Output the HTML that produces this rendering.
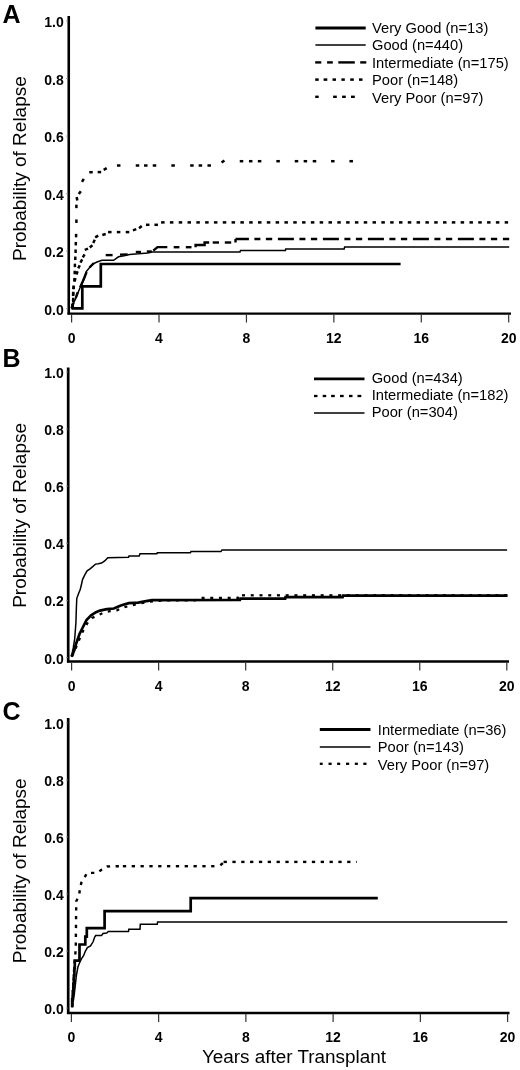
<!DOCTYPE html><html><head><meta charset="utf-8"><style>html,body{margin:0;padding:0;background:#fff;}svg{display:block;will-change:transform}</style></head><body>
<svg width="520" height="1070" viewBox="0 0 520 1070">
<rect width="520" height="1070" fill="#fff"/>
<g font-family='"Liberation Sans", sans-serif' fill="#000">
<text x="2.6" y="23.4" font-size="25" font-weight="bold">A</text>
<line x1="68.75" y1="16" x2="68.75" y2="314.5" stroke="#000" stroke-width="2.6"/>
<line x1="67.5" y1="313.6" x2="511" y2="313.6" stroke="#000" stroke-width="2.3"/>
<line x1="71.60" y1="314.5" x2="71.60" y2="322.5" stroke="#333" stroke-width="1.2"/>
<text x="71.60" y="343.2" font-size="14" font-weight="bold" text-anchor="middle">0</text>
<line x1="159.02" y1="314.5" x2="159.02" y2="322.5" stroke="#333" stroke-width="1.2"/>
<text x="159.02" y="343.2" font-size="14" font-weight="bold" text-anchor="middle">4</text>
<line x1="246.44" y1="314.5" x2="246.44" y2="322.5" stroke="#333" stroke-width="1.2"/>
<text x="246.44" y="343.2" font-size="14" font-weight="bold" text-anchor="middle">8</text>
<line x1="333.86" y1="314.5" x2="333.86" y2="322.5" stroke="#333" stroke-width="1.2"/>
<text x="333.86" y="343.2" font-size="14" font-weight="bold" text-anchor="middle">12</text>
<line x1="421.28" y1="314.5" x2="421.28" y2="322.5" stroke="#333" stroke-width="1.2"/>
<text x="421.28" y="343.2" font-size="14" font-weight="bold" text-anchor="middle">16</text>
<line x1="508.70" y1="314.5" x2="508.70" y2="322.5" stroke="#333" stroke-width="1.2"/>
<text x="508.70" y="343.2" font-size="14" font-weight="bold" text-anchor="middle">20</text>
<line x1="66" y1="308.70" x2="68" y2="308.70" stroke="#888" stroke-width="0.8"/>
<text x="63.8" y="314.70" font-size="14" font-weight="bold" text-anchor="end">0.0</text>
<line x1="66" y1="251.16" x2="68" y2="251.16" stroke="#888" stroke-width="0.8"/>
<text x="63.8" y="257.16" font-size="14" font-weight="bold" text-anchor="end">0.2</text>
<line x1="66" y1="193.62" x2="68" y2="193.62" stroke="#888" stroke-width="0.8"/>
<text x="63.8" y="199.62" font-size="14" font-weight="bold" text-anchor="end">0.4</text>
<line x1="66" y1="136.08" x2="68" y2="136.08" stroke="#888" stroke-width="0.8"/>
<text x="63.8" y="142.08" font-size="14" font-weight="bold" text-anchor="end">0.6</text>
<line x1="66" y1="78.54" x2="68" y2="78.54" stroke="#888" stroke-width="0.8"/>
<text x="63.8" y="84.54" font-size="14" font-weight="bold" text-anchor="end">0.8</text>
<line x1="66" y1="21.00" x2="68" y2="21.00" stroke="#888" stroke-width="0.8"/>
<text x="63.8" y="27.00" font-size="14" font-weight="bold" text-anchor="end">1.0</text>
<text transform="translate(25.7 168.6) rotate(-90)" font-size="19" text-anchor="middle">Probability of Relapse</text>
<text x="2.6" y="366.8" font-size="25" font-weight="bold">B</text>
<line x1="68.2" y1="367.5" x2="68.2" y2="662.5" stroke="#000" stroke-width="2.7"/>
<line x1="67" y1="661.5" x2="509" y2="661.5" stroke="#000" stroke-width="2.3"/>
<line x1="71.60" y1="662.5" x2="71.60" y2="670.5" stroke="#333" stroke-width="1.2"/>
<text x="71.60" y="690.5" font-size="14" font-weight="bold" text-anchor="middle">0</text>
<line x1="158.64" y1="662.5" x2="158.64" y2="670.5" stroke="#333" stroke-width="1.2"/>
<text x="158.64" y="690.5" font-size="14" font-weight="bold" text-anchor="middle">4</text>
<line x1="245.68" y1="662.5" x2="245.68" y2="670.5" stroke="#333" stroke-width="1.2"/>
<text x="245.68" y="690.5" font-size="14" font-weight="bold" text-anchor="middle">8</text>
<line x1="332.72" y1="662.5" x2="332.72" y2="670.5" stroke="#333" stroke-width="1.2"/>
<text x="332.72" y="690.5" font-size="14" font-weight="bold" text-anchor="middle">12</text>
<line x1="419.76" y1="662.5" x2="419.76" y2="670.5" stroke="#333" stroke-width="1.2"/>
<text x="419.76" y="690.5" font-size="14" font-weight="bold" text-anchor="middle">16</text>
<line x1="506.80" y1="662.5" x2="506.80" y2="670.5" stroke="#333" stroke-width="1.2"/>
<text x="506.80" y="690.5" font-size="14" font-weight="bold" text-anchor="middle">20</text>
<line x1="66" y1="657.50" x2="68" y2="657.50" stroke="#888" stroke-width="0.8"/>
<text x="63.8" y="663.50" font-size="14" font-weight="bold" text-anchor="end">0.0</text>
<line x1="66" y1="600.40" x2="68" y2="600.40" stroke="#888" stroke-width="0.8"/>
<text x="63.8" y="606.40" font-size="14" font-weight="bold" text-anchor="end">0.2</text>
<line x1="66" y1="543.30" x2="68" y2="543.30" stroke="#888" stroke-width="0.8"/>
<text x="63.8" y="549.30" font-size="14" font-weight="bold" text-anchor="end">0.4</text>
<line x1="66" y1="486.20" x2="68" y2="486.20" stroke="#888" stroke-width="0.8"/>
<text x="63.8" y="492.20" font-size="14" font-weight="bold" text-anchor="end">0.6</text>
<line x1="66" y1="429.10" x2="68" y2="429.10" stroke="#888" stroke-width="0.8"/>
<text x="63.8" y="435.10" font-size="14" font-weight="bold" text-anchor="end">0.8</text>
<line x1="66" y1="372.00" x2="68" y2="372.00" stroke="#888" stroke-width="0.8"/>
<text x="63.8" y="378.00" font-size="14" font-weight="bold" text-anchor="end">1.0</text>
<text transform="translate(25.7 515.4) rotate(-90)" font-size="19" text-anchor="middle">Probability of Relapse</text>
<text x="2.6" y="720.3" font-size="25" font-weight="bold">C</text>
<line x1="68.2" y1="718" x2="68.2" y2="1014" stroke="#000" stroke-width="2.7"/>
<line x1="67" y1="1013.0" x2="509.5" y2="1013.0" stroke="#000" stroke-width="2.6"/>
<line x1="71.40" y1="1014" x2="71.40" y2="1022" stroke="#333" stroke-width="1.2"/>
<text x="71.40" y="1042" font-size="14" font-weight="bold" text-anchor="middle">0</text>
<line x1="158.64" y1="1014" x2="158.64" y2="1022" stroke="#333" stroke-width="1.2"/>
<text x="158.64" y="1042" font-size="14" font-weight="bold" text-anchor="middle">4</text>
<line x1="245.88" y1="1014" x2="245.88" y2="1022" stroke="#333" stroke-width="1.2"/>
<text x="245.88" y="1042" font-size="14" font-weight="bold" text-anchor="middle">8</text>
<line x1="333.12" y1="1014" x2="333.12" y2="1022" stroke="#333" stroke-width="1.2"/>
<text x="333.12" y="1042" font-size="14" font-weight="bold" text-anchor="middle">12</text>
<line x1="420.36" y1="1014" x2="420.36" y2="1022" stroke="#333" stroke-width="1.2"/>
<text x="420.36" y="1042" font-size="14" font-weight="bold" text-anchor="middle">16</text>
<line x1="507.60" y1="1014" x2="507.60" y2="1022" stroke="#333" stroke-width="1.2"/>
<text x="507.60" y="1042" font-size="14" font-weight="bold" text-anchor="middle">20</text>
<line x1="66" y1="1008.10" x2="68" y2="1008.10" stroke="#888" stroke-width="0.8"/>
<text x="63.8" y="1014.10" font-size="14" font-weight="bold" text-anchor="end">0.0</text>
<line x1="66" y1="951.04" x2="68" y2="951.04" stroke="#888" stroke-width="0.8"/>
<text x="63.8" y="957.04" font-size="14" font-weight="bold" text-anchor="end">0.2</text>
<line x1="66" y1="893.98" x2="68" y2="893.98" stroke="#888" stroke-width="0.8"/>
<text x="63.8" y="899.98" font-size="14" font-weight="bold" text-anchor="end">0.4</text>
<line x1="66" y1="836.92" x2="68" y2="836.92" stroke="#888" stroke-width="0.8"/>
<text x="63.8" y="842.92" font-size="14" font-weight="bold" text-anchor="end">0.6</text>
<line x1="66" y1="779.86" x2="68" y2="779.86" stroke="#888" stroke-width="0.8"/>
<text x="63.8" y="785.86" font-size="14" font-weight="bold" text-anchor="end">0.8</text>
<line x1="66" y1="722.80" x2="68" y2="722.80" stroke="#888" stroke-width="0.8"/>
<text x="63.8" y="728.80" font-size="14" font-weight="bold" text-anchor="end">1.0</text>
<text transform="translate(25.7 870.8) rotate(-90)" font-size="19" text-anchor="middle">Probability of Relapse</text>
<text x="201.9" y="1063.4" font-size="18.9">Years after Transplant</text>
</g>
<polyline points="71.5,308.3 82.3,308.3 82.3,286.3 100.8,286.3 100.8,264 400.6,264" fill="none" stroke="#000" stroke-width="2.7" stroke-linecap="butt" stroke-linejoin="miter"/>
<polyline points="71.5,308.5 72.4,307 74,302 75.8,298.4 77.5,294 79.9,288 82.1,283.8 84.5,278 86.3,271.5 89.4,267.7 93.2,263.8 97,262 101.9,260.3 113.6,260.3 118.5,256.8 124,255.8 129.5,254.4 138.5,253.8 147.7,252.9 150,252.4 152,252 240,252 240.5,250.6 285.4,250.6 285.8,248.9 344.2,248.9 344.6,247.1 509.2,247.1" fill="none" stroke="#000" stroke-width="1.5" stroke-linecap="butt" stroke-linejoin="miter"/>
<polyline points="71.5,308.5 73,304 75.5,298.5 77.5,293 80,287.5 82.5,282 85,276 87,271 90,267 93.5,263.5 97.5,261.2" fill="none" stroke="#000" stroke-width="2.4" stroke-linecap="butt" stroke-linejoin="miter" stroke-dasharray="6 5.5 6 5.5 16.5 5.5"/>
<polyline points="105.7,255.1 112.6,255.1" fill="none" stroke="#000" stroke-width="2.4" stroke-linecap="butt" stroke-linejoin="miter"/>
<polyline points="120,254.6 127.6,254.4" fill="none" stroke="#000" stroke-width="2.4" stroke-linecap="butt" stroke-linejoin="miter"/>
<polyline points="135.8,252 141,252" fill="none" stroke="#000" stroke-width="2.4" stroke-linecap="butt" stroke-linejoin="miter"/>
<polyline points="146.8,251.5 151.8,251.5" fill="none" stroke="#000" stroke-width="2.4" stroke-linecap="butt" stroke-linejoin="miter"/>
<polyline points="153.3,250.6 157.5,247.1 167.3,247.1" fill="none" stroke="#000" stroke-width="2.4" stroke-linecap="butt" stroke-linejoin="miter"/>
<polyline points="173.7,247.2 179.4,247.2" fill="none" stroke="#000" stroke-width="2.4" stroke-linecap="butt" stroke-linejoin="miter"/>
<polyline points="185.8,247.2 191.5,247.2" fill="none" stroke="#000" stroke-width="2.4" stroke-linecap="butt" stroke-linejoin="miter"/>
<polyline points="195.6,247.2 195.6,245 204.6,245 204.6,242.5 209.2,242.5" fill="none" stroke="#000" stroke-width="2.4" stroke-linecap="butt" stroke-linejoin="miter"/>
<polyline points="212.7,242.5 219,242.5" fill="none" stroke="#000" stroke-width="2.4" stroke-linecap="butt" stroke-linejoin="miter"/>
<polyline points="224.8,242.5 231.2,242.5" fill="none" stroke="#000" stroke-width="2.4" stroke-linecap="butt" stroke-linejoin="miter"/>
<polyline points="235.5,242.5 235.5,239" fill="none" stroke="#000" stroke-width="2.4" stroke-linecap="butt" stroke-linejoin="miter"/>
<line x1="235.5" y1="239" x2="509.2" y2="239" stroke="#000" stroke-width="2.4" stroke-dasharray="16 5.5 6 5.5 6.3 5.7" stroke-dashoffset="2.6"/>
<line x1="72.30" y1="307.22" x2="72.90" y2="303.78" stroke="#000" stroke-width="2.5"/>
<line x1="73.20" y1="302.15" x2="73.20" y2="298.65" stroke="#000" stroke-width="2.5"/>
<line x1="73.10" y1="296.05" x2="73.10" y2="292.55" stroke="#000" stroke-width="2.5"/>
<line x1="73.30" y1="289.12" x2="73.90" y2="285.68" stroke="#000" stroke-width="2.5"/>
<line x1="74.55" y1="281.49" x2="75.45" y2="278.11" stroke="#000" stroke-width="2.5"/>
<line x1="76.40" y1="274.54" x2="77.60" y2="271.26" stroke="#000" stroke-width="2.5"/>
<line x1="78.26" y1="268.39" x2="79.74" y2="265.21" stroke="#000" stroke-width="2.5"/>
<line x1="80.42" y1="262.52" x2="82.17" y2="259.48" stroke="#000" stroke-width="2.5"/>
<line x1="82.83" y1="257.32" x2="84.58" y2="254.28" stroke="#000" stroke-width="2.5"/>
<line x1="84.76" y1="249.90" x2="88.04" y2="248.70" stroke="#000" stroke-width="2.5"/>
<line x1="89.76" y1="247.42" x2="92.44" y2="245.18" stroke="#000" stroke-width="2.5"/>
<line x1="93.26" y1="242.99" x2="94.74" y2="239.81" stroke="#000" stroke-width="2.5"/>
<line x1="95.18" y1="237.38" x2="98.22" y2="235.62" stroke="#000" stroke-width="2.5"/>
<line x1="102.31" y1="234.95" x2="105.69" y2="234.05" stroke="#000" stroke-width="2.5"/>
<line x1="108.05" y1="232.10" x2="111.55" y2="232.10" stroke="#000" stroke-width="2.5"/>
<line x1="116.85" y1="232.10" x2="120.35" y2="232.10" stroke="#000" stroke-width="2.5"/>
<line x1="125.75" y1="232.10" x2="129.25" y2="232.10" stroke="#000" stroke-width="2.5"/>
<line x1="132.96" y1="230.40" x2="136.24" y2="229.20" stroke="#000" stroke-width="2.5"/>
<line x1="139.06" y1="228.32" x2="141.74" y2="226.08" stroke="#000" stroke-width="2.5"/>
<line x1="145.95" y1="224.80" x2="149.45" y2="224.80" stroke="#000" stroke-width="2.5"/>
<line x1="154.45" y1="224.80" x2="157.95" y2="224.80" stroke="#000" stroke-width="2.5"/>
<line x1="161.09" y1="222.4" x2="164.59" y2="222.4" stroke="#000" stroke-width="2.5"/>
<line x1="169.90" y1="222.4" x2="173.40" y2="222.4" stroke="#000" stroke-width="2.5"/>
<line x1="178.71" y1="222.4" x2="182.21" y2="222.4" stroke="#000" stroke-width="2.5"/>
<line x1="187.52" y1="222.4" x2="191.02" y2="222.4" stroke="#000" stroke-width="2.5"/>
<line x1="196.33" y1="222.4" x2="199.83" y2="222.4" stroke="#000" stroke-width="2.5"/>
<line x1="205.14" y1="222.4" x2="208.64" y2="222.4" stroke="#000" stroke-width="2.5"/>
<line x1="213.95" y1="222.4" x2="217.45" y2="222.4" stroke="#000" stroke-width="2.5"/>
<line x1="222.76" y1="222.4" x2="226.26" y2="222.4" stroke="#000" stroke-width="2.5"/>
<line x1="231.57" y1="222.4" x2="235.07" y2="222.4" stroke="#000" stroke-width="2.5"/>
<line x1="240.38" y1="222.4" x2="243.88" y2="222.4" stroke="#000" stroke-width="2.5"/>
<line x1="249.19" y1="222.4" x2="252.69" y2="222.4" stroke="#000" stroke-width="2.5"/>
<line x1="258.00" y1="222.4" x2="261.50" y2="222.4" stroke="#000" stroke-width="2.5"/>
<line x1="266.81" y1="222.4" x2="270.31" y2="222.4" stroke="#000" stroke-width="2.5"/>
<line x1="275.62" y1="222.4" x2="279.12" y2="222.4" stroke="#000" stroke-width="2.5"/>
<line x1="284.43" y1="222.4" x2="287.93" y2="222.4" stroke="#000" stroke-width="2.5"/>
<line x1="293.24" y1="222.4" x2="296.74" y2="222.4" stroke="#000" stroke-width="2.5"/>
<line x1="302.05" y1="222.4" x2="305.55" y2="222.4" stroke="#000" stroke-width="2.5"/>
<line x1="310.86" y1="222.4" x2="314.36" y2="222.4" stroke="#000" stroke-width="2.5"/>
<line x1="319.67" y1="222.4" x2="323.17" y2="222.4" stroke="#000" stroke-width="2.5"/>
<line x1="328.48" y1="222.4" x2="331.98" y2="222.4" stroke="#000" stroke-width="2.5"/>
<line x1="337.29" y1="222.4" x2="340.79" y2="222.4" stroke="#000" stroke-width="2.5"/>
<line x1="346.10" y1="222.4" x2="349.60" y2="222.4" stroke="#000" stroke-width="2.5"/>
<line x1="354.91" y1="222.4" x2="358.41" y2="222.4" stroke="#000" stroke-width="2.5"/>
<line x1="363.72" y1="222.4" x2="367.22" y2="222.4" stroke="#000" stroke-width="2.5"/>
<line x1="372.53" y1="222.4" x2="376.03" y2="222.4" stroke="#000" stroke-width="2.5"/>
<line x1="381.34" y1="222.4" x2="384.84" y2="222.4" stroke="#000" stroke-width="2.5"/>
<line x1="390.15" y1="222.4" x2="393.65" y2="222.4" stroke="#000" stroke-width="2.5"/>
<line x1="398.96" y1="222.4" x2="402.46" y2="222.4" stroke="#000" stroke-width="2.5"/>
<line x1="407.77" y1="222.4" x2="411.27" y2="222.4" stroke="#000" stroke-width="2.5"/>
<line x1="416.58" y1="222.4" x2="420.08" y2="222.4" stroke="#000" stroke-width="2.5"/>
<line x1="425.39" y1="222.4" x2="428.89" y2="222.4" stroke="#000" stroke-width="2.5"/>
<line x1="434.20" y1="222.4" x2="437.70" y2="222.4" stroke="#000" stroke-width="2.5"/>
<line x1="443.01" y1="222.4" x2="446.51" y2="222.4" stroke="#000" stroke-width="2.5"/>
<line x1="451.82" y1="222.4" x2="455.32" y2="222.4" stroke="#000" stroke-width="2.5"/>
<line x1="460.63" y1="222.4" x2="464.13" y2="222.4" stroke="#000" stroke-width="2.5"/>
<line x1="469.44" y1="222.4" x2="472.94" y2="222.4" stroke="#000" stroke-width="2.5"/>
<line x1="478.25" y1="222.4" x2="481.75" y2="222.4" stroke="#000" stroke-width="2.5"/>
<line x1="487.06" y1="222.4" x2="490.56" y2="222.4" stroke="#000" stroke-width="2.5"/>
<line x1="495.87" y1="222.4" x2="499.37" y2="222.4" stroke="#000" stroke-width="2.5"/>
<line x1="504.68" y1="222.4" x2="508.10" y2="222.4" stroke="#000" stroke-width="2.5"/>
<line x1="72.60" y1="303.75" x2="72.60" y2="307.25" stroke="#000" stroke-width="2.5"/>
<line x1="73.20" y1="297.75" x2="73.20" y2="301.25" stroke="#000" stroke-width="2.5"/>
<line x1="73.30" y1="291.75" x2="73.30" y2="295.25" stroke="#000" stroke-width="2.5"/>
<line x1="73.60" y1="285.65" x2="73.60" y2="289.15" stroke="#000" stroke-width="2.5"/>
<line x1="74.40" y1="278.05" x2="74.40" y2="281.55" stroke="#000" stroke-width="2.5"/>
<line x1="74.70" y1="270.75" x2="74.70" y2="274.25" stroke="#000" stroke-width="2.5"/>
<line x1="74.90" y1="263.65" x2="74.90" y2="267.15" stroke="#000" stroke-width="2.5"/>
<line x1="75.30" y1="256.55" x2="75.30" y2="260.05" stroke="#000" stroke-width="2.5"/>
<line x1="75.60" y1="249.45" x2="75.60" y2="252.95" stroke="#000" stroke-width="2.5"/>
<line x1="75.80" y1="241.95" x2="75.80" y2="245.45" stroke="#000" stroke-width="2.5"/>
<line x1="76.10" y1="233.85" x2="76.10" y2="237.35" stroke="#000" stroke-width="2.5"/>
<line x1="76.40" y1="219.45" x2="76.40" y2="222.95" stroke="#000" stroke-width="2.5"/>
<line x1="76.40" y1="204.65" x2="76.40" y2="208.15" stroke="#000" stroke-width="2.5"/>
<line x1="76.70" y1="196.98" x2="77.30" y2="200.42" stroke="#000" stroke-width="2.5"/>
<line x1="78.80" y1="194.03" x2="80.80" y2="191.17" stroke="#000" stroke-width="2.5"/>
<line x1="82.03" y1="181.92" x2="83.78" y2="178.88" stroke="#000" stroke-width="2.5"/>
<line x1="89.25" y1="172.20" x2="92.75" y2="172.20" stroke="#000" stroke-width="2.5"/>
<line x1="97.65" y1="172.10" x2="101.15" y2="172.10" stroke="#000" stroke-width="2.5"/>
<line x1="103.68" y1="169.88" x2="106.72" y2="168.12" stroke="#000" stroke-width="2.5"/>
<line x1="116.95" y1="165.50" x2="120.45" y2="165.50" stroke="#000" stroke-width="2.5"/>
<line x1="135.75" y1="165.50" x2="139.25" y2="165.50" stroke="#000" stroke-width="2.5"/>
<line x1="144.05" y1="165.50" x2="147.55" y2="165.50" stroke="#000" stroke-width="2.5"/>
<line x1="152.75" y1="165.50" x2="156.25" y2="165.50" stroke="#000" stroke-width="2.5"/>
<line x1="171.35" y1="165.50" x2="174.85" y2="165.50" stroke="#000" stroke-width="2.5"/>
<line x1="190.15" y1="165.50" x2="193.65" y2="165.50" stroke="#000" stroke-width="2.5"/>
<line x1="198.65" y1="165.50" x2="202.15" y2="165.50" stroke="#000" stroke-width="2.5"/>
<line x1="207.45" y1="165.50" x2="210.95" y2="165.50" stroke="#000" stroke-width="2.5"/>
<line x1="221.57" y1="162.60" x2="224.43" y2="160.60" stroke="#000" stroke-width="2.5"/>
<line x1="239.75" y1="161.20" x2="243.25" y2="161.20" stroke="#000" stroke-width="2.5"/>
<line x1="248.95" y1="161.20" x2="252.45" y2="161.20" stroke="#000" stroke-width="2.5"/>
<line x1="257.85" y1="161.20" x2="261.35" y2="161.20" stroke="#000" stroke-width="2.5"/>
<line x1="276.35" y1="161.20" x2="279.85" y2="161.20" stroke="#000" stroke-width="2.5"/>
<line x1="294.75" y1="161.20" x2="298.25" y2="161.20" stroke="#000" stroke-width="2.5"/>
<line x1="303.65" y1="161.20" x2="307.15" y2="161.20" stroke="#000" stroke-width="2.5"/>
<line x1="312.75" y1="161.20" x2="316.25" y2="161.20" stroke="#000" stroke-width="2.5"/>
<line x1="331.05" y1="161.20" x2="334.55" y2="161.20" stroke="#000" stroke-width="2.5"/>
<line x1="349.45" y1="161.20" x2="352.95" y2="161.20" stroke="#000" stroke-width="2.5"/>
<polyline points="71.4,656.6 73.3,647.7 74.7,638.7 75.9,623 76.4,607.3 76.8,598.3 78.7,593.3 80.3,589.3 81.5,584.3 82.6,579.3 84.8,574.8 87.1,570.8 90.4,568.6 95.5,564.1 98.3,563.8 101.6,563 105,560.7 107.8,557.7 128.5,557.3 129,556.1 139.2,556.1 140,553.8 156.9,553.8 157.3,552.7 190.4,552.8 191,551.6 221,551.6 222,549.9 507.1,549.9" fill="none" stroke="#000" stroke-width="1.5" stroke-linecap="butt" stroke-linejoin="miter"/>
<polyline points="71.4,656.6 73,653.5 74.5,649.5 76,644 79.5,634 83,627 86.5,620 91.1,615.4 96,612.2 100,610.6 106.9,609.2 113.8,608.5 120.8,605.5 128.8,603.2 138.1,602.6 146.2,601.2 151.9,600.2 240,599.8 240.5,598.6 285.2,598.6 285.5,597.2 342.6,597.2 343,595.6 507.5,595.6" fill="none" stroke="#000" stroke-width="2.7" stroke-linecap="butt" stroke-linejoin="miter"/>
<polyline points="72,656.6 75,650 77.5,644 80.5,636.5 84,629 88,622 92,618 97.7,615.5 104,612.5 110,611.2 117,610.3 122,607.8 131,605.6 140,603.5 150,601.6 165,600.4 195,600.3 200,598 238,598 239,595.3" fill="none" stroke="#000" stroke-width="2.3" stroke-linecap="butt" stroke-linejoin="miter" stroke-dasharray="3 5.7"/>
<line x1="242.00" y1="595.3" x2="245.00" y2="595.3" stroke="#000" stroke-width="2.3"/>
<line x1="250.74" y1="595.3" x2="253.74" y2="595.3" stroke="#000" stroke-width="2.3"/>
<line x1="259.48" y1="595.3" x2="262.48" y2="595.3" stroke="#000" stroke-width="2.3"/>
<line x1="268.22" y1="595.3" x2="271.22" y2="595.3" stroke="#000" stroke-width="2.3"/>
<line x1="276.96" y1="595.3" x2="279.96" y2="595.3" stroke="#000" stroke-width="2.3"/>
<line x1="285.70" y1="595.3" x2="288.70" y2="595.3" stroke="#000" stroke-width="2.3"/>
<line x1="294.44" y1="595.3" x2="297.44" y2="595.3" stroke="#000" stroke-width="2.3"/>
<line x1="303.18" y1="595.3" x2="306.18" y2="595.3" stroke="#000" stroke-width="2.3"/>
<line x1="311.92" y1="595.3" x2="314.92" y2="595.3" stroke="#000" stroke-width="2.3"/>
<line x1="320.66" y1="595.3" x2="323.66" y2="595.3" stroke="#000" stroke-width="2.3"/>
<line x1="329.40" y1="595.3" x2="332.40" y2="595.3" stroke="#000" stroke-width="2.3"/>
<line x1="338.14" y1="595.3" x2="341.14" y2="595.3" stroke="#000" stroke-width="2.3"/>
<line x1="346.88" y1="595.3" x2="349.88" y2="595.3" stroke="#000" stroke-width="2.3"/>
<line x1="355.62" y1="595.3" x2="358.62" y2="595.3" stroke="#000" stroke-width="2.3"/>
<line x1="364.36" y1="595.3" x2="367.36" y2="595.3" stroke="#000" stroke-width="2.3"/>
<line x1="373.10" y1="595.3" x2="376.10" y2="595.3" stroke="#000" stroke-width="2.3"/>
<line x1="381.84" y1="595.3" x2="384.84" y2="595.3" stroke="#000" stroke-width="2.3"/>
<line x1="390.58" y1="595.3" x2="393.58" y2="595.3" stroke="#000" stroke-width="2.3"/>
<line x1="399.32" y1="595.3" x2="402.32" y2="595.3" stroke="#000" stroke-width="2.3"/>
<line x1="408.06" y1="595.3" x2="411.06" y2="595.3" stroke="#000" stroke-width="2.3"/>
<line x1="416.80" y1="595.3" x2="419.80" y2="595.3" stroke="#000" stroke-width="2.3"/>
<line x1="425.54" y1="595.3" x2="428.54" y2="595.3" stroke="#000" stroke-width="2.3"/>
<line x1="434.28" y1="595.3" x2="437.28" y2="595.3" stroke="#000" stroke-width="2.3"/>
<line x1="443.02" y1="595.3" x2="446.02" y2="595.3" stroke="#000" stroke-width="2.3"/>
<line x1="451.76" y1="595.3" x2="454.76" y2="595.3" stroke="#000" stroke-width="2.3"/>
<line x1="460.50" y1="595.3" x2="463.50" y2="595.3" stroke="#000" stroke-width="2.3"/>
<line x1="469.24" y1="595.3" x2="472.24" y2="595.3" stroke="#000" stroke-width="2.3"/>
<line x1="477.98" y1="595.3" x2="480.98" y2="595.3" stroke="#000" stroke-width="2.3"/>
<line x1="486.72" y1="595.3" x2="489.72" y2="595.3" stroke="#000" stroke-width="2.3"/>
<line x1="495.46" y1="595.3" x2="498.46" y2="595.3" stroke="#000" stroke-width="2.3"/>
<line x1="504.20" y1="595.3" x2="507.20" y2="595.3" stroke="#000" stroke-width="2.3"/>
<polyline points="72.2,1007.2 72.2,999.3 72.8,999.3 72.8,991.4 73.4,991.4 73.4,983.5 73.9,983.5 73.9,975.6 74.4,975.6 74.4,968 74.8,968 74.8,960.7 79.5,960.7 79.5,944.5 85.3,944.5 85.3,936.6 86.8,936.6 86.8,928.2 104.6,928.2 104.6,911.2 190.7,911.2 190.7,898.1 377.8,898.1" fill="none" stroke="#000" stroke-width="2.7" stroke-linecap="butt" stroke-linejoin="miter"/>
<polyline points="72.2,1007.2 74.3,994.1 76.4,975.3 77.9,967 80,961.7 81.6,958.6 83.7,955.4 85.3,951.3 87.4,947.6 90.5,946 93.1,941.8 94.7,937.1 95.7,935.6 101.5,935.6 103,933.5 106.7,933 108.3,931.5 128.5,931.5 128.8,929.3 140,929.3 140.3,924.2 157.3,924.2 157.6,921.9 507.3,921.9" fill="none" stroke="#000" stroke-width="1.5" stroke-linecap="butt" stroke-linejoin="miter"/>
<polyline points="72.2,1007.2 73.5,985 74.3,965 75.2,957 75.8,945 76.1,913.8 76.3,901.2 79,895.4 80.1,888.5 81.3,882.7 84.2,878.1 87,872.9 96.8,872.9 102,869.4 107.2,866.5 115.9,866.2 120,866.2" fill="none" stroke="#000" stroke-width="2.4" stroke-linecap="butt" stroke-linejoin="miter" stroke-dasharray="3.3 5.5"/>
<line x1="122.85" y1="866.2" x2="126.15" y2="866.2" stroke="#000" stroke-width="2.4"/>
<line x1="131.68" y1="866.2" x2="134.98" y2="866.2" stroke="#000" stroke-width="2.4"/>
<line x1="140.51" y1="866.2" x2="143.81" y2="866.2" stroke="#000" stroke-width="2.4"/>
<line x1="149.34" y1="866.2" x2="152.64" y2="866.2" stroke="#000" stroke-width="2.4"/>
<line x1="158.17" y1="866.2" x2="161.47" y2="866.2" stroke="#000" stroke-width="2.4"/>
<line x1="167.00" y1="866.2" x2="170.30" y2="866.2" stroke="#000" stroke-width="2.4"/>
<line x1="175.83" y1="866.2" x2="179.13" y2="866.2" stroke="#000" stroke-width="2.4"/>
<line x1="184.66" y1="866.2" x2="187.96" y2="866.2" stroke="#000" stroke-width="2.4"/>
<line x1="193.49" y1="866.2" x2="196.79" y2="866.2" stroke="#000" stroke-width="2.4"/>
<line x1="202.32" y1="866.2" x2="205.62" y2="866.2" stroke="#000" stroke-width="2.4"/>
<line x1="211.15" y1="866.2" x2="214.45" y2="866.2" stroke="#000" stroke-width="2.4"/>
<line x1="220.34" y1="865.26" x2="222.86" y2="863.14" stroke="#000" stroke-width="2.4"/>
<line x1="223.56" y1="861.9" x2="226.86" y2="861.9" stroke="#000" stroke-width="2.4"/>
<line x1="232.39" y1="861.9" x2="235.69" y2="861.9" stroke="#000" stroke-width="2.4"/>
<line x1="241.22" y1="861.9" x2="244.52" y2="861.9" stroke="#000" stroke-width="2.4"/>
<line x1="250.05" y1="861.9" x2="253.35" y2="861.9" stroke="#000" stroke-width="2.4"/>
<line x1="258.88" y1="861.9" x2="262.18" y2="861.9" stroke="#000" stroke-width="2.4"/>
<line x1="267.71" y1="861.9" x2="271.01" y2="861.9" stroke="#000" stroke-width="2.4"/>
<line x1="276.54" y1="861.9" x2="279.84" y2="861.9" stroke="#000" stroke-width="2.4"/>
<line x1="285.37" y1="861.9" x2="288.67" y2="861.9" stroke="#000" stroke-width="2.4"/>
<line x1="294.20" y1="861.9" x2="297.50" y2="861.9" stroke="#000" stroke-width="2.4"/>
<line x1="303.03" y1="861.9" x2="306.33" y2="861.9" stroke="#000" stroke-width="2.4"/>
<line x1="311.86" y1="861.9" x2="315.16" y2="861.9" stroke="#000" stroke-width="2.4"/>
<line x1="320.69" y1="861.9" x2="323.99" y2="861.9" stroke="#000" stroke-width="2.4"/>
<line x1="329.52" y1="861.9" x2="332.82" y2="861.9" stroke="#000" stroke-width="2.4"/>
<line x1="338.35" y1="861.9" x2="341.65" y2="861.9" stroke="#000" stroke-width="2.4"/>
<line x1="347.18" y1="861.9" x2="350.48" y2="861.9" stroke="#000" stroke-width="2.4"/>
<line x1="356.01" y1="861.9" x2="356.70" y2="861.9" stroke="#000" stroke-width="2.4"/>
<line x1="315.4" y1="28.0" x2="365.7" y2="28.0" stroke="#000" stroke-width="3"/>
<line x1="315.4" y1="45" x2="365.7" y2="45" stroke="#000" stroke-width="1.4"/>
<line x1="315.2" y1="62.4" x2="321.3" y2="62.4" stroke="#000" stroke-width="2.4"/>
<line x1="327.1" y1="62.4" x2="332.8" y2="62.4" stroke="#000" stroke-width="2.4"/>
<line x1="338.3" y1="62.4" x2="354.8" y2="62.4" stroke="#000" stroke-width="2.4"/>
<line x1="360.2" y1="62.4" x2="366.3" y2="62.4" stroke="#000" stroke-width="2.4"/>
<line x1="315.2" y1="79.6" x2="318.7" y2="79.6" stroke="#000" stroke-width="2.5"/>
<line x1="323.6" y1="79.6" x2="327.3" y2="79.6" stroke="#000" stroke-width="2.5"/>
<line x1="332.5" y1="79.6" x2="336" y2="79.6" stroke="#000" stroke-width="2.5"/>
<line x1="341.4" y1="79.6" x2="344.8" y2="79.6" stroke="#000" stroke-width="2.5"/>
<line x1="350.2" y1="79.6" x2="353.8" y2="79.6" stroke="#000" stroke-width="2.5"/>
<line x1="359" y1="79.6" x2="362.5" y2="79.6" stroke="#000" stroke-width="2.5"/>
<line x1="315.2" y1="96.8" x2="318.7" y2="96.8" stroke="#000" stroke-width="2.4"/>
<line x1="333.1" y1="96.8" x2="336.8" y2="96.8" stroke="#000" stroke-width="2.4"/>
<line x1="342.1" y1="96.8" x2="345.8" y2="96.8" stroke="#000" stroke-width="2.4"/>
<line x1="351" y1="96.8" x2="354.8" y2="96.8" stroke="#000" stroke-width="2.4"/>
<line x1="314" y1="378.9" x2="364.5" y2="378.9" stroke="#000" stroke-width="2.7"/>
<line x1="314" y1="396" x2="317.5" y2="396" stroke="#000" stroke-width="2.3"/>
<line x1="322.7" y1="396" x2="326.2" y2="396" stroke="#000" stroke-width="2.3"/>
<line x1="331.1" y1="396" x2="334.8" y2="396" stroke="#000" stroke-width="2.3"/>
<line x1="340" y1="396" x2="343.7" y2="396" stroke="#000" stroke-width="2.3"/>
<line x1="349" y1="396" x2="352.5" y2="396" stroke="#000" stroke-width="2.3"/>
<line x1="357.5" y1="396" x2="361.3" y2="396" stroke="#000" stroke-width="2.3"/>
<line x1="314" y1="413" x2="364.5" y2="413" stroke="#000" stroke-width="1.5"/>
<line x1="319.8" y1="729.6" x2="370.5" y2="729.6" stroke="#000" stroke-width="3"/>
<line x1="319.8" y1="747.1" x2="370.5" y2="747.1" stroke="#000" stroke-width="1.5"/>
<line x1="319.8" y1="763.8" x2="322.7" y2="763.8" stroke="#000" stroke-width="2.3"/>
<line x1="328.5" y1="763.8" x2="331.7" y2="763.8" stroke="#000" stroke-width="2.3"/>
<line x1="337.1" y1="763.8" x2="340.2" y2="763.8" stroke="#000" stroke-width="2.3"/>
<line x1="346" y1="763.8" x2="349.2" y2="763.8" stroke="#000" stroke-width="2.3"/>
<line x1="354.8" y1="763.8" x2="357.9" y2="763.8" stroke="#000" stroke-width="2.3"/>
<line x1="363.3" y1="763.8" x2="366.5" y2="763.8" stroke="#000" stroke-width="2.3"/>
<g font-family='"Liberation Sans", sans-serif' font-size="14.7" fill="#000">
<text x="372" y="32.5">Very Good (n=13)</text>
<text x="372" y="50">Good (n=440)</text>
<text x="372" y="67.5">Intermediate (n=175)</text>
<text x="372" y="85">Poor (n=148)</text>
<text x="372" y="102.5">Very Poor (n=97)</text>
<text x="371.7" y="382.5">Good (n=434)</text>
<text x="371.7" y="400">Intermediate (n=182)</text>
<text x="371.7" y="417">Poor (n=304)</text>
<text x="377.8" y="734.8">Intermediate (n=36)</text>
<text x="377.8" y="752.1">Poor (n=143)</text>
<text x="377.8" y="769.7">Very Poor (n=97)</text>
</g>
</svg></body></html>
